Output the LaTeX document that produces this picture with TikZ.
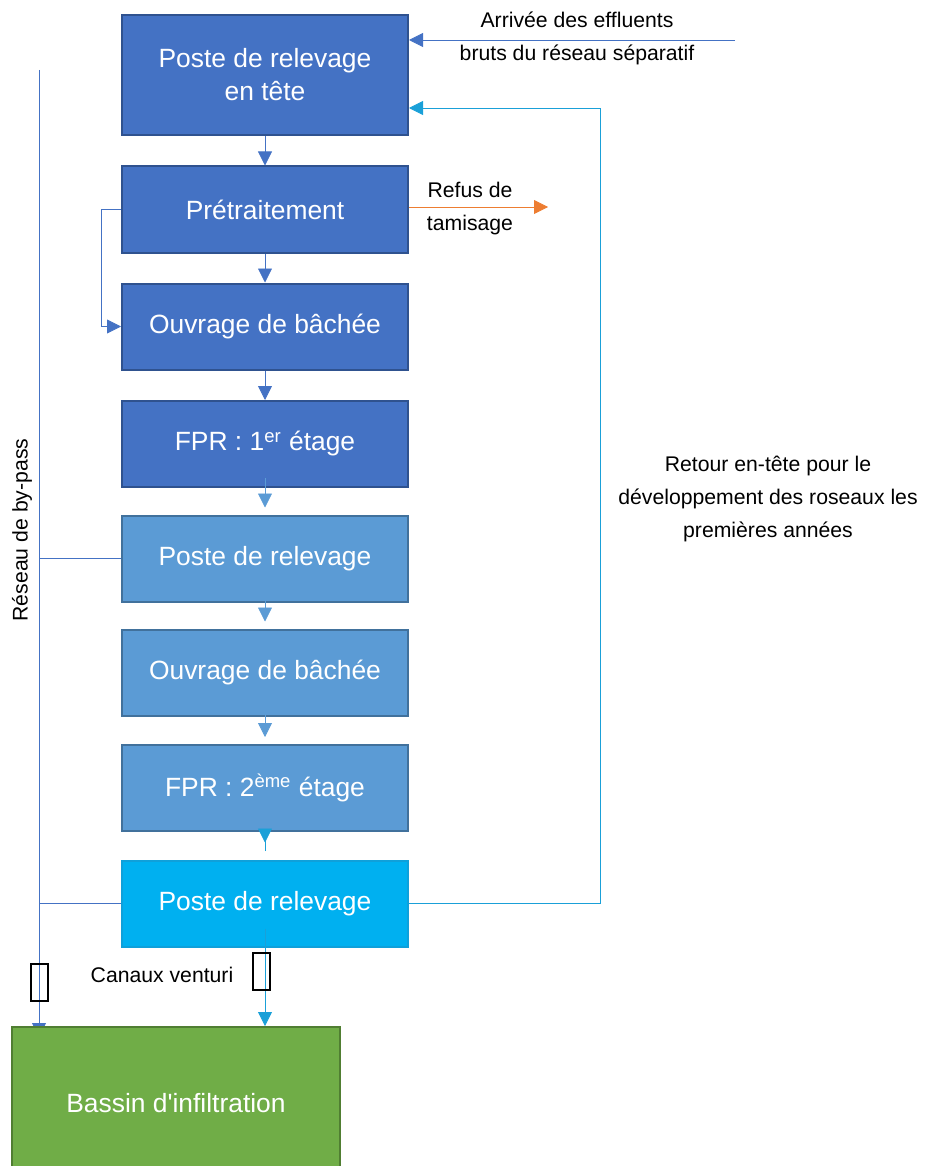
\documentclass[tikz,border=0pt]{standalone}
\usepackage{fontspec}
\setmainfont{Liberation Sans}
\usetikzlibrary{arrows.meta}
\pgfdeclarelayer{back}
\pgfsetlayers{back,main}
\definecolor{bleu}{HTML}{4472C4}
\definecolor{bleubord}{HTML}{2F528F}
\definecolor{ciel}{HTML}{5B9BD5}
\definecolor{cielbord}{HTML}{41719C}
\definecolor{turq}{HTML}{00B0F0}
\definecolor{turqbord}{HTML}{0FA0DA}
\definecolor{turqfl}{HTML}{1AA0D8}
\definecolor{vert}{HTML}{70AD47}
\definecolor{vertbord}{HTML}{507E32}
\definecolor{orange}{HTML}{ED7D31}
\begin{document}
\begin{tikzpicture}[x=0.5pt,y=-0.5pt,
    box/.style={rectangle, draw, line width=1pt, text=white, align=center,
      minimum width=143pt, minimum height=43pt,
      font=\fontsize{13.2}{16.5}\selectfont},
    dark/.style={box, fill=bleu, draw=bleubord},
    light/.style={box, fill=ciel, draw=cielbord},
    lab/.style={align=center, font=\fontsize{10.6}{16.5}\selectfont},
    venturi/.style={draw, line width=1pt, minimum width=8.5pt, minimum height=18.5pt, inner sep=0pt},
    >={Triangle[width=7pt,length=7pt]}, line width=0.7pt]
    \useasboundingbox (0,0) rectangle (930,1166);
    \node[dark, minimum height=60pt] (p1) at (265,75) {Poste de relevage\\en tête};
    \node[dark] (p2) at (265,209.5) {Prétraitement};
    \node[dark] (p3) at (265,326.5) {Ouvrage de bâchée};
    \node[dark] (p4) at (265,444) {FPR : 1\textsuperscript{er} étage};
    \node[light] (p5) at (265,558.5) {Poste de relevage};
    \node[light] (p6) at (265,672.5) {Ouvrage de bâchée};
    \node[light] (p7) at (265,788) {FPR : 2\textsuperscript{ème} étage};
    \node[box, fill=turq, draw=turqbord] (p8) at (265,903.5) {Poste de relevage};
    \node[box, fill=vert, draw=vertbord, minimum width=164pt, minimum height=76.5pt] (bs) at (176,1103.5) {Bassin d\textquotesingle infiltration};
    \coordinate (src) at (735,40);
    \coordinate (ret) at (600,108);
    \coordinate (ref) at (548,207);
    \coordinate (bp) at (39,70);
    \begin{pgfonlayer}{back}
      \draw[->,bleu,shorten >=-5.5pt] (bp) -- (bp |- bs.north);
    \end{pgfonlayer}
    \draw[->,bleu] (p1) -- (p2);
    \draw[->,bleu] (p2) -- (p3);
    \draw[->,bleu] (p3) -- (p4);
    \draw[->,ciel,shorten <=-5pt,shorten >=3.5pt] (p4) -- (p5);
    \draw[->,ciel,shorten <=-5pt,shorten >=3.5pt] (p5) -- (p6);
    \draw[->,ciel,shorten <=-5pt,shorten >=3.5pt] (p6) -- (p7);
    \draw[->,turqfl,shorten <=-9.5pt,shorten >=8.5pt] (p7) -- (p8);
    \draw[->,turqfl,shorten <=-9.5pt] (p8.south) -- (p8.south |- bs.north);
    \draw[->,bleu] (p2.west) -- ++(-20,0) |- (p3.west);
    \draw[->,bleu] (src) -- (src -| p1.east);
    \draw[->,turqfl] (p8.east) -| (ret) -- (ret -| p1.east);
    \draw[->,orange] (p2.east |- ref) -- (ref);
    \draw[bleu] (p5.west) -- (p5.west -| bp);
    \draw[bleu] (p8.west) -- (p8.west -| bp);
    \node[venturi] (v1) at (39,982.5) {};
    \node[venturi] (v2) at (261.5,971) {};
    \node[lab] (arr) at (577,38.5) {Arrivée des effluents\\bruts du réseau séparatif};
    \node[lab] (tam) at (470,209) {Refus de\\tamisage};
    \node[lab] (rtr) at (768,499) {Retour en-tête pour le\\développement des roseaux les\\premières années};
    \node[lab] (can) at (162,975) {Canaux venturi};
    \node[lab, rotate=90] (byp) at (22,530) {Réseau de by-pass};
\end{tikzpicture}
\end{document}
